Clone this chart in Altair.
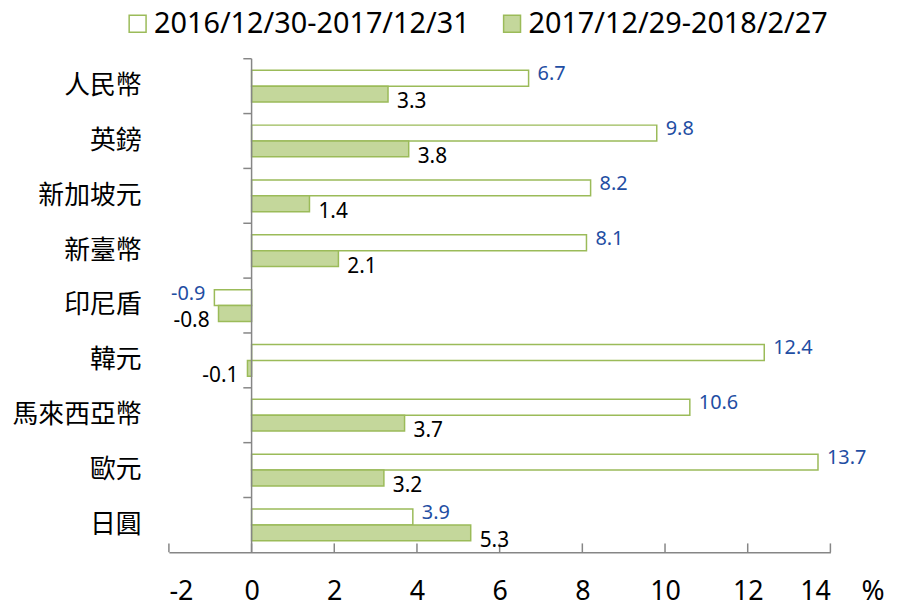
import altair as alt
import pandas as pd

categories = ["人民幣", "英鎊", "新加坡元", "新臺幣", "印尼盾", "韓元", "馬來西亞幣", "歐元", "日圓"]
series_names = ["2016/12/30-2017/12/31", "2017/12/29-2018/2/27"]
values_2017 = [6.7, 9.8, 8.2, 8.1, -0.9, 12.4, 10.6, 13.7, 3.9]
values_2018 = [3.3, 3.8, 1.4, 2.1, -0.8, -0.1, 3.7, 3.2, 5.3]
x_ticks = [-2, 0, 2, 4, 6, 8, 10, 12, 14]

rows = []
for c, a, b in zip(categories, values_2017, values_2018):
    rows.append({"cat": c, "series": series_names[0], "value": a, "label": f"{a:.1f}"})
    rows.append({"cat": c, "series": series_names[1], "value": b, "label": f"{b:.1f}"})
df = pd.DataFrame(rows)
cat_df = pd.DataFrame({"cat": categories})
tick_df = pd.DataFrame({"tick": x_ticks})
one = pd.DataFrame({"a": [0]})

W, H = 666, 497
AXIS_GRAY = "#868686"
GREEN_FILL = "#c4d79b"
GREEN_STROKE = "#9bbb59"
BLUE = "#1f4ea3"
NUM_FONT = "Noto Sans"
CJK_FONT = "Noto Sans CJK TC"

xscale = alt.Scale(domain=[-2, 14], nice=False, zero=False)
yscale = alt.Scale(domain=categories, paddingInner=0, paddingOuter=0)
oscale = alt.Scale(domain=series_names, paddingInner=0, paddingOuter=0.728)

base = alt.Chart(df)

bars = base.mark_bar(stroke=GREEN_STROKE, strokeWidth=1.5).encode(
    x=alt.X("value:Q", scale=xscale,
            axis=alt.Axis(values=x_ticks, tickSize=0, title=None, grid=False,
                          domainColor=AXIS_GRAY, domainWidth=1.5,
                          labelExpr="'' + datum.value",
                          labelFontSize=27, labelFont=NUM_FONT, labelColor="black",
                          labelPadding=26)),
    y=alt.Y("cat:N", sort=categories, scale=yscale,
            axis=alt.Axis(title=None, domain=False, ticks=False, labelPadding=28,
                          labelFontSize=26, labelFont=CJK_FONT, labelColor="black")),
    yOffset=alt.YOffset("series:N", sort=series_names, scale=oscale),
    fill=alt.Fill("series:N", sort=series_names,
                  scale=alt.Scale(domain=series_names, range=["white", GREEN_FILL]),
                  legend=alt.Legend(title=None, orient="none", legendX=-46, legendY=-50,
                                    direction="horizontal", symbolType="square",
                                    symbolSize=290, labelFontSize=29, labelFont=NUM_FONT,
                                    labelColor="black", labelOffset=2, columnPadding=28,
                                    labelLimit=500,
                                    symbolStrokeWidth=1.5, symbolStrokeColor=GREEN_STROKE,
                                    padding=0)),
)

yaxis_line = alt.Chart(one).mark_rule(color=AXIS_GRAY, strokeWidth=1.5).encode(
    x=alt.datum(0), y=alt.value(0), y2=alt.value(H)
)

cat_ticks = alt.Chart(cat_df).mark_rule(color=AXIS_GRAY, strokeWidth=1.5).encode(
    y=alt.Y("cat:N", sort=categories, bandPosition=0),
    x=alt.datum(0), x2=alt.datum(-0.2),
)

x_tick_marks = alt.Chart(tick_df).mark_rule(color=AXIS_GRAY, strokeWidth=1.5).encode(
    x="tick:Q", y=alt.value(H), y2=alt.value(H - 9)
)

def labels(series, positive, color, dy, size):
    cond = f"datum.series === '{series}' && datum.value {'>=' if positive else '<'} 0"
    return base.transform_filter(cond).mark_text(
        align="left" if positive else "right", dx=9 if positive else -9, dy=dy,
        baseline="middle", fontSize=size, font=NUM_FONT, color=color,
    ).encode(
        x="value:Q",
        y=alt.Y("cat:N", sort=categories),
        yOffset=alt.YOffset("series:N", sort=series_names),
        text="label:N",
    )

pct = alt.Chart(one).mark_text(text="%", fontSize=28, font=NUM_FONT, color="black",
                               align="center", baseline="middle", dx=43, dy=40).encode(
    x=alt.datum(14), y=alt.value(H)
)

chart = alt.layer(
    bars, yaxis_line, cat_ticks, x_tick_marks,
    labels(series_names[0], True, BLUE, -4, 20),
    labels(series_names[0], False, BLUE, -4, 20),
    labels(series_names[1], True, "black", 8, 21),
    labels(series_names[1], False, "black", 8, 21),
    pct,
).properties(
    width=W, height=H,
    padding={"left": 162, "top": 49, "right": 59, "bottom": 60},
    autosize=alt.AutoSizeParams(type="none"),
).configure_view(stroke=None)

chart.save("out.html", embed_options={"renderer": "svg", "actions": False})
